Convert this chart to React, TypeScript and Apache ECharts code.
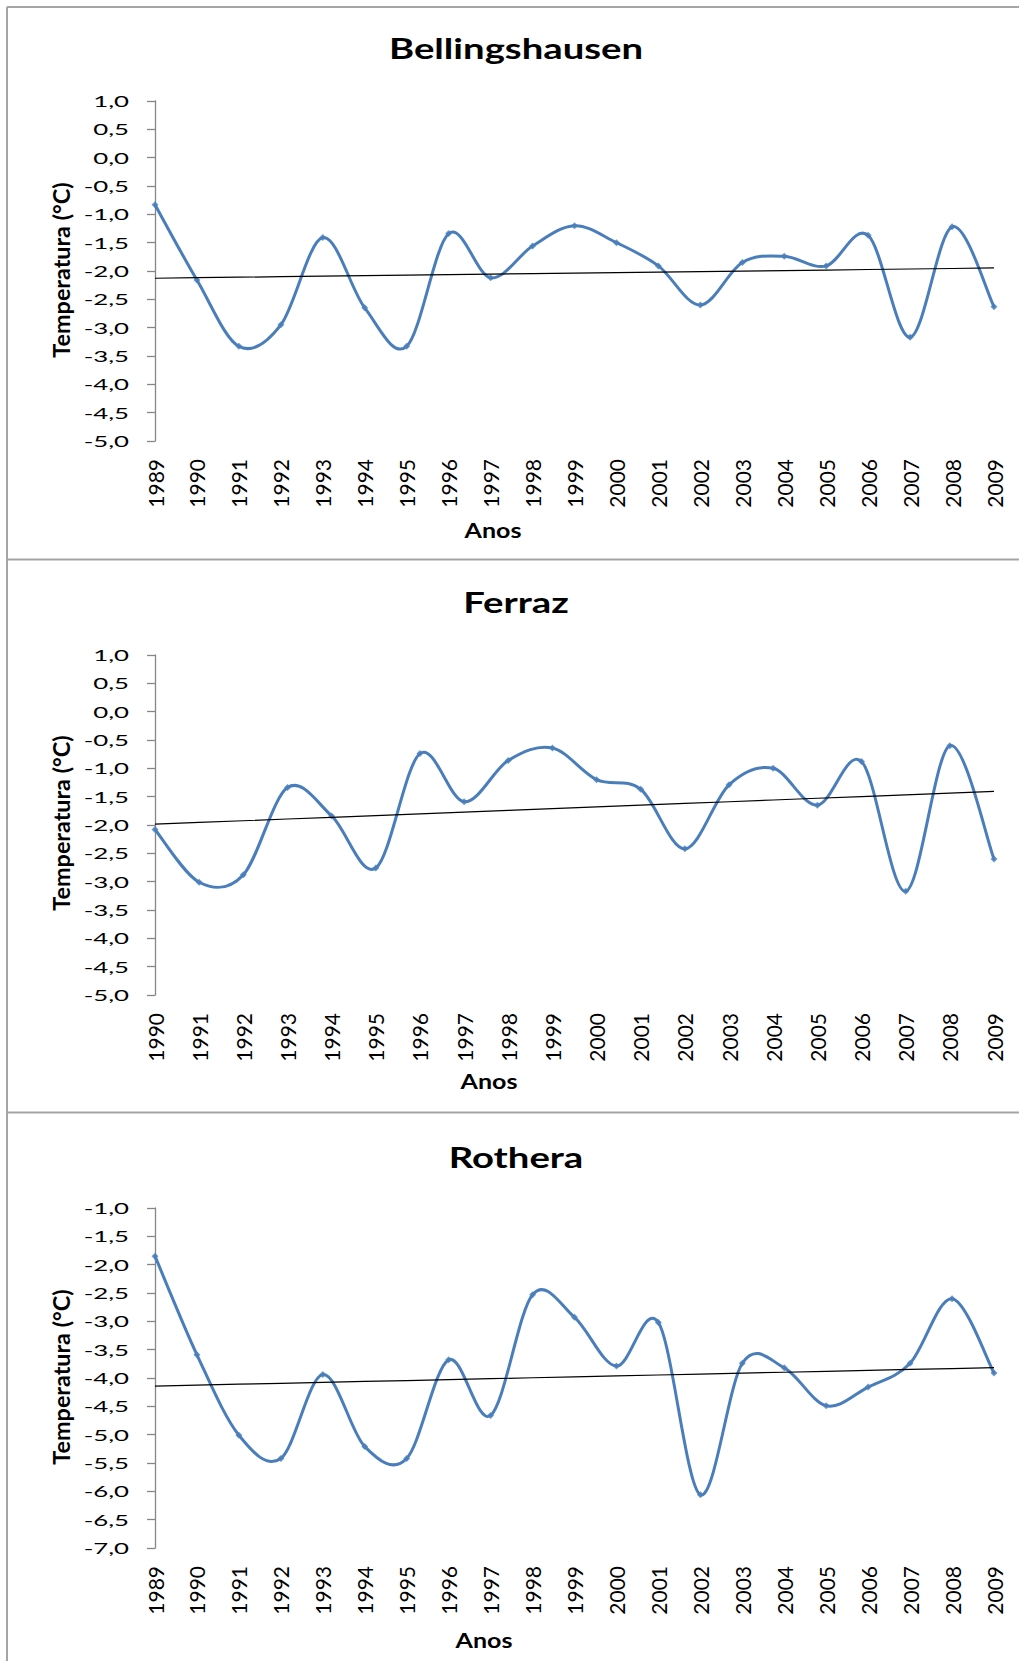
import React, { useEffect, useRef } from "react";
import * as echarts from "echarts";

// ---------- data ----------
const yearsBellingshausen = ["1989","1990","1991","1992","1993","1994","1995","1996","1997","1998","1999","2000","2001","2002","2003","2004","2005","2006","2007","2008","2009"];
const yearsFerraz = ["1990","1991","1992","1993","1994","1995","1996","1997","1998","1999","2000","2001","2002","2003","2004","2005","2006","2007","2008","2009"];
const yearsRothera = ["1989","1990","1991","1992","1993","1994","1995","1996","1997","1998","1999","2000","2001","2002","2003","2004","2005","2006","2007","2008","2009"];

const tempBellingshausen = [-0.83,-2.16,-3.33,-2.95,-1.41,-2.65,-3.33,-1.34,-2.12,-1.56,-1.20,-1.50,-1.91,-2.60,-1.85,-1.74,-1.91,-1.37,-3.17,-1.22,-2.63];
const tempFerraz = [-2.08,-3.01,-2.88,-1.34,-1.84,-2.76,-0.74,-1.59,-0.86,-0.64,-1.20,-1.37,-2.42,-1.29,-1.00,-1.65,-0.88,-3.17,-0.60,-2.60];
const tempRothera = [-1.85,-3.59,-5.01,-5.42,-3.94,-5.21,-5.42,-3.68,-4.66,-2.53,-2.93,-3.79,-3.02,-6.06,-3.74,-3.82,-4.49,-4.16,-3.74,-2.60,-3.91];

const ticksBellingshausen = [1.0,0.5,0.0,-0.5,-1.0,-1.5,-2.0,-2.5,-3.0,-3.5,-4.0,-4.5,-5.0];
const ticksFerraz = [1.0,0.5,0.0,-0.5,-1.0,-1.5,-2.0,-2.5,-3.0,-3.5,-4.0,-4.5,-5.0];
const ticksRothera = [-1.0,-1.5,-2.0,-2.5,-3.0,-3.5,-4.0,-4.5,-5.0,-5.5,-6.0,-6.5,-7.0];

const stationTitles = ["Bellingshausen", "Ferraz", "Rothera"];
const yAxisTitle = "Temperatura (°C)";
const xAxisTitle = "Anos";

// ---------- helpers ----------
function linearTrend(vals: number[]): number[] {
  const n = vals.length;
  const mx = (n - 1) / 2;
  const my = vals.reduce((a, b) => a + b, 0) / n;
  let sxy = 0, sxx = 0;
  vals.forEach((v, i) => { sxy += (i - mx) * (v - my); sxx += (i - mx) * (i - mx); });
  const b = sxy / sxx;
  const a = my - b * mx;
  return vals.map((_, i) => +(a + b * i).toFixed(4));
}
const fmt = (v: number) => v.toFixed(1).replace(".", ",");

const BLUE = "#4A7EBB";
const AXIS = "#868686";

// Excel-style smoothed line (Catmull-Rom Bezier segments through data points, via api.coord)
function smoothRenderer(vals: number[]) {
  return (params: any, api: any) => {
    const i = params.dataIndex;
    const n = vals.length;
    if (i >= n - 1) return { type: "group", children: [] };
    const pt = (j: number) => {
      const k = Math.max(0, Math.min(n - 1, j));
      return api.coord([k, vals[k]]);
    };
    const p0 = pt(i - 1), p1 = pt(i), p2 = pt(i + 1), p3 = pt(i + 2);
    const t = 1 / 6;
    return {
      type: "bezierCurve",
      silent: true,
      shape: {
        x1: p1[0], y1: p1[1], x2: p2[0], y2: p2[1],
        cpx1: p1[0] + (p2[0] - p0[0]) * t, cpy1: p1[1] + (p2[1] - p0[1]) * t,
        cpx2: p2[0] - (p3[0] - p1[0]) * t, cpy2: p2[1] - (p3[1] - p1[1]) * t,
      },
      style: { stroke: BLUE, lineWidth: 3, fill: "none", lineCap: "round" },
    };
  };
}

const panels = [
  { years: yearsBellingshausen, temps: tempBellingshausen, ticks: ticksBellingshausen, min: -5, max: 1, gridTop: 101, titleY: 47, anosX: 493, anosY: 530, nameY: 270 },
  { years: yearsFerraz, temps: tempFerraz, ticks: ticksFerraz, min: -5, max: 1, gridTop: 655, titleY: 601, anosX: 489, anosY: 1081, nameY: 823 },
  { years: yearsRothera, temps: tempRothera, ticks: ticksRothera, min: -7, max: -1, gridTop: 1208, titleY: 1156, anosX: 484, anosY: 1640, nameY: 1377 },
];

export default function App() {
  const ref = useRef<HTMLDivElement>(null);

  useEffect(() => {
    document.body.style.margin = "0";
    document.body.style.overflow = "hidden";
    if (!ref.current) return;
    const chart = echarts.init(ref.current, undefined, { renderer: "svg" });

    const grid = panels.map((p) => ({
      left: 155, width: 839, top: p.gridTop, height: 340,
      containLabel: false, outerBoundsMode: "none",
    }));
    const xAxis = panels.map((p, i) => ({
      gridIndex: i, type: "category", data: p.years, boundaryGap: false,
      axisLine: { show: false }, axisTick: { show: false }, splitLine: { show: false },
      axisLabel: { interval: 0, rotate: 90, margin: 18, fontFamily: "Lato", fontSize: 21, color: "#000" },
    }));
    const yAxis = panels.map((p, i) => ({
      gridIndex: i, type: "value", min: p.min, max: p.max, interval: 0.5,
      axisLine: { show: true, lineStyle: { color: AXIS, width: 1.3 } },
      axisTick: { show: true, inside: false, length: 8, lineStyle: { color: AXIS, width: 1.3 } },
      axisLabel: { show: false }, splitLine: { show: false },
    }));
    const series: any[] = [];
    panels.forEach((p, i) => {
      series.push({
        type: "custom", xAxisIndex: i, yAxisIndex: i,
        data: p.temps.map((v, k) => [k, v]),
        renderItem: smoothRenderer(p.temps), z: 2, silent: true,
      });
      series.push({
        type: "scatter", xAxisIndex: i, yAxisIndex: i,
        data: p.temps.map((v, k) => [k, v]),
        symbol: "diamond", symbolSize: 7, itemStyle: { color: BLUE }, z: 2, silent: true,
      });
      series.push({
        type: "line", xAxisIndex: i, yAxisIndex: i, data: linearTrend(p.temps),
        symbol: "none", lineStyle: { color: "#000", width: 1.2 }, z: 3, silent: true,
      });
    });

    chart.setOption({ animation: false, grid, xAxis, yAxis, series });

    const graphic: any[] = [];
    const border = { stroke: "#a5a5a5", lineWidth: 2 };
    graphic.push({ type: "line", shape: { x1: 7, y1: 7, x2: 1019, y2: 7 }, style: border });
    graphic.push({ type: "line", shape: { x1: 7, y1: 7, x2: 7, y2: 1661 }, style: border });
    graphic.push({ type: "line", shape: { x1: 7, y1: 559.5, x2: 1019, y2: 559.5 }, style: border });
    graphic.push({ type: "line", shape: { x1: 7, y1: 1112.5, x2: 1019, y2: 1112.5 }, style: border });

    panels.forEach((p, i) => {
      graphic.push({
        type: "text", x: 516, y: p.titleY, scaleX: 1.32,
        style: { text: stationTitles[i], fontFamily: "Lato", fontWeight: "bold", fontSize: 29, fill: "#000", align: "center", verticalAlign: "middle" },
      });
      graphic.push({
        type: "text", x: p.anosX, y: p.anosY, scaleX: 1.17,
        style: { text: xAxisTitle, fontFamily: "Lato", fontWeight: "bold", fontSize: 21.4, fill: "#000", align: "center", verticalAlign: "middle" },
      });
      graphic.push({
        type: "text", x: 61, y: p.nameY, rotation: Math.PI / 2,
        style: { text: yAxisTitle, fontFamily: "Lato", fontWeight: "bold", fontSize: 23.4, fill: "#000", align: "center", verticalAlign: "middle" },
      });
      p.ticks.forEach((t) => {
        const py = chart.convertToPixel({ yAxisIndex: i } as any, t) as unknown as number;
        graphic.push({
          type: "text", x: 129, y: py, scaleX: 1.72,
          style: { text: fmt(t), fontFamily: "Lato", fontSize: 15, fill: "#000", align: "right", verticalAlign: "middle" },
        });
      });
    });

    chart.setOption({ graphic });

    return () => chart.dispose();
  }, []);

  return <div ref={ref} style={{ width: 1019, height: 1661 }} />;
}
